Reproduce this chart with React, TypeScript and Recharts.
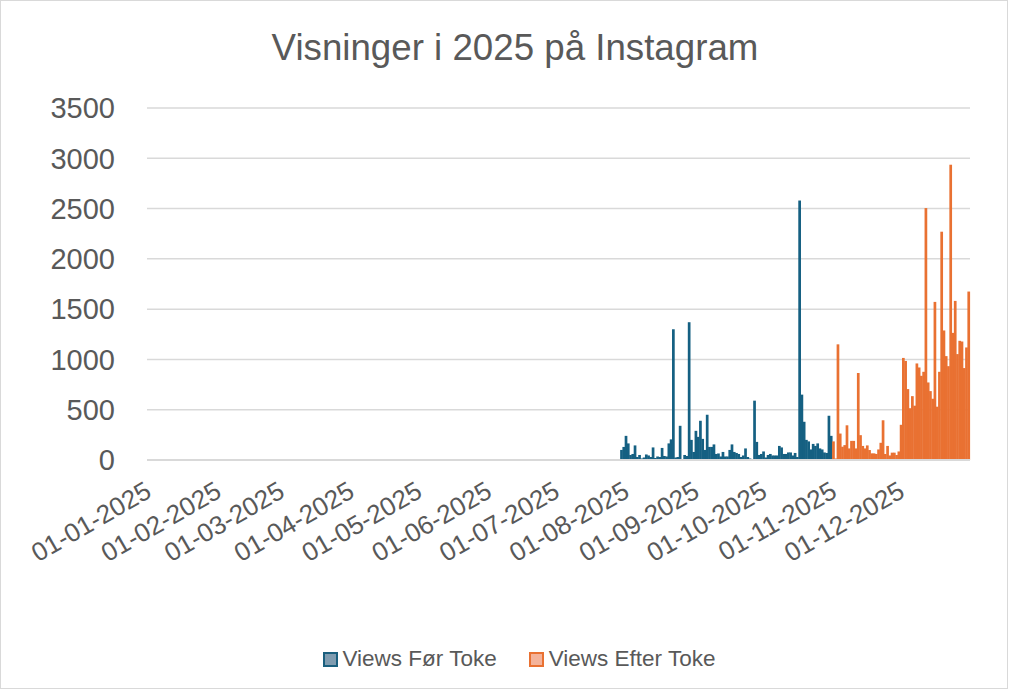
import React from "react";
import { BarChart, Bar, XAxis, YAxis, CartesianGrid } from "recharts";

// ---- data ----
const chartTitle = "Visninger i 2025 på Instagram";
const seriesNames = ["Views Før Toke", "Views Efter Toke"];
const year = 2025;

// daily views before Toke, starting 30-07-2025
const beforeStart = "30-07-2025";
const beforeViews = [
  100, 130, 240, 165, 50, 60, 145, 30, 50, 15,
  25, 55, 45, 30, 125, 20, 35, 30, 120, 40,
  35, 165, 205, 1300, 25, 30, 340, 10, 50, 40,
  1370, 200, 80, 290, 230, 390, 210, 100, 450, 130,
  130, 155, 60, 65, 35, 80, 35, 35, 100, 155,
  80, 70, 60, 30, 45, 115, 30, 15, 10, 590,
  180, 50, 60, 85, 25, 50, 60, 45, 45, 45,
  140, 125, 60, 60, 75, 75, 45, 70, 30, 2580,
  650, 380, 200, 185, 105, 160, 140, 165, 115, 105,
  75, 70, 440, 240,
];

// daily views after Toke, starting 01-11-2025
const afterStart = "01-11-2025";
const afterViews = [
  185, 15, 1150, 263, 132, 148, 345, 115, 190, 190,
  115, 865, 247, 140, 115, 145, 99, 66, 66, 60,
  105, 171, 395, 60, 140, 45, 73, 73, 50, 85,
  350, 1015, 985, 705, 515, 635, 540, 960, 920, 837,
  877, 2505, 771, 685, 609, 1572, 530, 877, 2270, 1288,
  1033, 933, 2936, 1264, 1582, 1053, 1185, 1178, 914, 1119,
  1675,
];

const yTicks = [0, 500, 1000, 1500, 2000, 2500, 3000, 3500];
const monthTicks = [
  "01-01-2025", "01-02-2025", "01-03-2025", "01-04-2025",
  "01-05-2025", "01-06-2025", "01-07-2025", "01-08-2025",
  "01-09-2025", "01-10-2025", "01-11-2025", "01-12-2025",
];

// ---- build the daily table ----
const pad = (n: number) => (n < 10 ? "0" + n : "" + n);
const fmt = (d: Date) =>
  `${pad(d.getUTCDate())}-${pad(d.getUTCMonth() + 1)}-${d.getUTCFullYear()}`;

const days: string[] = [];
for (let t = Date.UTC(year, 0, 1); new Date(t).getUTCFullYear() === year; t += 86400000) {
  days.push(fmt(new Date(t)));
}
const beforeIdx = days.indexOf(beforeStart);
const afterIdx = days.indexOf(afterStart);
const table = days.map((date, i) => {
  const b = i - beforeIdx;
  const a = i - afterIdx;
  return {
    date,
    before: b >= 0 && b < beforeViews.length ? beforeViews[b] : null,
    after: a >= 0 && a < afterViews.length ? afterViews[a] : null,
  };
});

const FONT = "'Liberation Sans', Arial, sans-serif";
const TEXT = "#595959";
const BLUE = "#156082";
const ORANGE = "#E97132";

const DateTick = (props: any) => {
  const { x, y, payload } = props;
  if (!monthTicks.includes(payload.value)) return null;
  const tx = x + 5;
  const ty = y + 36;
  return (
    <text
      x={tx}
      y={ty}
      transform={`rotate(-30, ${tx}, ${ty})`}
      textAnchor="end"
      fill={TEXT}
      fontSize={26}
      fontFamily={FONT}
    >
      {payload.value}
    </text>
  );
};

// bars fill the whole day slot, like the reference's gap-free columns
const DayBar = (props: any) => {
  const { x, y, width, height, fill } = props;
  if (!height || height <= 0) return null;
  return <rect x={x - 0.35} y={y} width={width + 0.7} height={height} fill={fill} />;
};

export default function App() {
  return (
    <div
      style={{
        position: "absolute",
        left: 0,
        top: 0,
        width: 1015,
        height: 695,
        background: "#fff",
      }}
    >
      <div
        style={{
          position: "absolute",
          left: 0,
          top: 0,
          width: 1008,
          height: 689,
          border: "1px solid #d9d9d9",
          boxSizing: "border-box",
        }}
      />
      <div
        style={{
          position: "absolute",
          left: 0,
          top: 27,
          width: 1030,
          textAlign: "center",
          fontFamily: FONT,
          fontSize: 36.7,
          color: TEXT,
          lineHeight: "42px",
        }}
      >
        {chartTitle}
      </div>
      <BarChart
        width={1015}
        height={695}
        data={table}
        margin={{ top: 108, right: 45, bottom: 0, left: 0 }}
        barCategoryGap={0}
        style={{ position: "absolute", left: 0, top: 0 }}
      >
        <CartesianGrid vertical={false} stroke="#d9d9d9" strokeWidth={1.5} />
        <XAxis
          dataKey="date"
          interval={0}
          height={235}
          tickSize={0}
          tickMargin={0}
          tick={<DateTick />}
          axisLine={{ stroke: "#d9d9d9", strokeWidth: 2 }}
          tickLine={false}
        />
        <YAxis
          width={147}
          domain={[0, 3500]}
          ticks={yTicks}
          tickSize={0}
          tickMargin={32}
          axisLine={false}
          tickLine={false}
          tick={{ fill: TEXT, fontSize: 29, fontFamily: FONT }}
        />
        <Bar
          dataKey="before"
          name={seriesNames[0]}
          stackId="v"
          fill={BLUE}
          shape={<DayBar />}
          isAnimationActive={false}
        />
        <Bar
          dataKey="after"
          name={seriesNames[1]}
          stackId="v"
          fill={ORANGE}
          shape={<DayBar />}
          isAnimationActive={false}
        />
      </BarChart>
      <div
        style={{
          position: "absolute",
          left: 0,
          top: 646,
          width: 1038,
          display: "flex",
          justifyContent: "center",
          alignItems: "center",
          fontFamily: FONT,
          fontSize: 22.5,
          color: TEXT,
        }}
      >
        <span style={{ display: "inline-flex", alignItems: "center", marginRight: 32 }}>
          <span
            style={{
              display: "inline-block",
              width: 11,
              height: 11,
              background: "#7f9cb0",
              border: "2px solid #1a5f7e",
              marginRight: 5,
            }}
          />
          {seriesNames[0]}
        </span>
        <span style={{ display: "inline-flex", alignItems: "center" }}>
          <span
            style={{
              display: "inline-block",
              width: 11,
              height: 11,
              background: "#f4b39a",
              border: "2px solid #e97132",
              marginRight: 5,
            }}
          />
          {seriesNames[1]}
        </span>
      </div>
    </div>
  );
}
